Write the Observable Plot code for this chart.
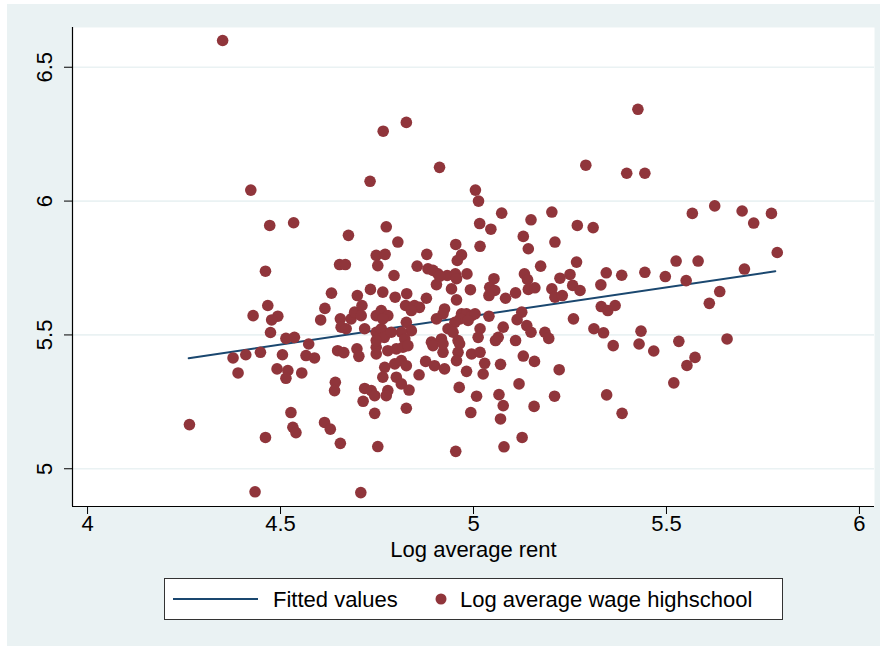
<!DOCTYPE html>
<html>
<head>
<meta charset="utf-8">
<script src="https://cdn.jsdelivr.net/npm/d3@7"></script>
<script src="https://cdn.jsdelivr.net/npm/@observablehq/plot@0.6"></script>
<style>
  html, body { margin: 0; padding: 0; background: #ffffff; width: 885px; height: 650px; overflow: hidden; }
  #bg { position: absolute; left: 7px; top: 4px; width: 873px; height: 642px; background: #eaf2f3; }
  #chart { position: absolute; left: 0; top: 0; }
  #legend { position: absolute; left: 164px; top: 578px; width: 619px; height: 42px; background: #fff; border: 1px solid #333; box-sizing: border-box; }
  #legend svg { display: block; }
</style>
</head>
<body>
<div id="bg"></div>
<div id="chart"></div>
<div id="legend"></div>
<script>
// Log average rent (x) and Log average wage highschool (y)
const rentX = [
4.350,5.426,4.826,4.766,5.291,4.912,5.397,5.444,4.732,4.423,5.005,5.013,
4.472,4.534,4.676,4.461,4.653,4.668,4.748,4.752,4.632,4.699,4.733,
4.467,4.429,4.493,4.477,4.615,4.604,4.655,4.657,4.670,4.683,4.692,4.711,4.709,4.718,4.748,
4.474,4.514,4.536,4.573,4.748,
4.377,4.410,4.448,4.505,4.566,4.588,4.648,4.664,4.698,4.703,4.748,4.748,
4.390,4.491,4.519,4.514,4.555,4.642,4.640,4.718,4.735,4.744,4.714,
4.527,4.532,4.540,4.461,4.264,4.614,4.629,4.655,4.744,4.752,4.434,4.708,
5.073,5.149,5.203,5.269,4.774,5.016,5.045,5.129,5.142,5.211,4.804,5.017,4.954,4.771,4.879,
4.969,4.958,4.854,4.882,4.895,4.908,4.932,4.953,4.956,4.904,4.912,4.983,4.794,
5.174,5.267,5.250,5.224,5.132,5.140,5.053,5.257,5.142,5.159,5.042,5.055,5.040,4.992,4.943,
4.765,4.797,4.827,4.878,4.956,5.083,5.109,5.203,5.211,5.230,
4.824,4.847,4.860,4.839,4.925,4.921,4.904,4.969,4.982,4.995,5.004,4.965,4.986,4.952,
5.040,5.125,5.113,5.259,4.761,4.778,4.765,
5.017,5.012,5.077,5.064,5.138,5.149,5.185,5.195,5.109,
4.826,4.839,4.813,4.822,4.761,4.769,4.787,4.748,4.934,4.947,4.917,4.891,4.960,
4.778,4.800,4.817,4.830,4.770,4.796,4.813,4.826,4.765,4.800,4.813,4.833,4.778,4.774,
4.859,4.876,4.899,4.925,4.895,4.921,4.960,4.956,4.995,5.017,4.982,5.029,5.025,5.070,
5.129,5.158,5.222,4.963,5.008,5.066,5.077,5.070,5.118,5.210,5.157,4.993,4.826,
4.954,5.079,5.126,4.921,4.964,5.057,
5.625,5.696,5.772,5.726,5.567,5.310,5.787,5.525,5.582,5.702,5.344,5.384,5.444,5.497,5.551,
5.330,5.276,5.638,5.611,5.331,5.348,5.367,5.312,5.337,5.434,5.362,5.429,5.532,5.657,
5.467,5.574,5.553,5.519,5.345,5.385
];
const wageY = [
6.600,6.343,6.294,6.261,6.134,6.126,6.104,6.104,6.074,6.041,6.041,6.000,
5.909,5.919,5.872,5.738,5.763,5.763,5.797,5.759,5.656,5.647,5.670,
5.610,5.572,5.570,5.556,5.599,5.556,5.560,5.529,5.523,5.560,5.585,5.610,5.572,5.523,5.572,
5.509,5.487,5.491,5.466,5.510,
5.414,5.426,5.435,5.426,5.423,5.414,5.441,5.434,5.448,5.420,5.454,5.429,
5.358,5.373,5.367,5.338,5.358,5.323,5.292,5.300,5.292,5.273,5.252,
5.210,5.155,5.135,5.117,5.165,5.173,5.148,5.095,5.207,5.083,4.914,4.911,
5.955,5.930,5.959,5.909,5.904,5.916,5.895,5.868,5.822,5.847,5.847,5.831,5.838,5.801,5.801,
5.799,5.778,5.757,5.747,5.741,5.728,5.722,5.728,5.710,5.688,5.719,5.728,5.722,
5.757,5.772,5.726,5.712,5.728,5.707,5.710,5.685,5.670,5.676,5.678,5.666,5.647,5.669,5.672,
5.660,5.641,5.654,5.637,5.631,5.637,5.657,5.672,5.641,5.647,
5.610,5.610,5.603,5.591,5.597,5.579,5.560,5.579,5.579,5.572,5.579,5.560,5.554,5.547,
5.570,5.585,5.557,5.560,5.591,5.572,5.560,
5.523,5.491,5.529,5.491,5.535,5.510,5.510,5.487,5.479,
5.547,5.516,5.510,5.485,5.523,5.491,5.510,5.479,5.523,5.510,5.485,5.473,5.479,
5.441,5.448,5.454,5.460,5.379,5.392,5.404,5.385,5.342,5.342,5.317,5.294,5.292,5.273,
5.351,5.401,5.385,5.373,5.460,5.435,5.435,5.404,5.429,5.435,5.364,5.394,5.354,5.390,
5.421,5.401,5.370,5.304,5.271,5.277,5.236,5.186,5.317,5.271,5.233,5.210,5.226,
5.065,5.082,5.117,5.467,5.467,5.479,
5.982,5.963,5.954,5.918,5.954,5.901,5.808,5.776,5.776,5.746,5.732,5.723,5.734,5.718,5.703,
5.687,5.666,5.662,5.618,5.606,5.591,5.610,5.523,5.508,5.514,5.460,5.466,5.476,5.485,
5.440,5.416,5.386,5.321,5.276,5.207
];
// Fitted values line (endpoints)
const fitX = [4.262, 5.782];
const fitY = [5.413, 5.738];
const xTicks = [4, 4.5, 5, 5.5, 6];
const yTicks = [5, 5.5, 6, 6.5];
const xLabel = "Log average rent";
const legendLabels = ["Fitted values", "Log average wage highschool"];

const xDomain = [3.961, 6.039];
const yDomain = [4.859, 6.6485];
const dotColor = "#90353b";
const lineColor = "#1a476f";
const font = "'Liberation Sans', Arial, Helvetica, sans-serif";

const points = rentX.map((x, i) => ({x, y: wageY[i]}));
const fit = fitX.map((x, i) => ({x, y: fitY[i]}));

const chart = Plot.plot({
  width: 885,
  height: 575,
  marginLeft: 72,
  marginRight: 11,
  marginTop: 27,
  marginBottom: 69,
  x: {domain: xDomain},
  y: {domain: yDomain},
  style: {background: "transparent", fontFamily: font, fontSize: "22px", color: "#000", overflow: "visible"},
  marks: [
    Plot.frame({fill: "white", stroke: null}),
    Plot.gridY(yTicks, {stroke: "#eaf2f3", strokeOpacity: 1, strokeWidth: 1.6}),
    Plot.axisX(xTicks, {tickSize: 8, tickPadding: 1, fontSize: 22, tickFormat: d => String(d), label: null}),
    Plot.axisY(yTicks, {tickSize: 8, tickFormat: () => "", label: null}),
    Plot.text(yTicks, {y: d => d, frameAnchor: "left", dx: -28, rotate: -90, text: d => String(d), fontSize: 22, textAnchor: "middle"}),
    Plot.line(fit, {x: "x", y: "y", stroke: lineColor, strokeWidth: 2}),
    Plot.dot(points, {x: "x", y: "y", r: 5.8, fill: dotColor, stroke: null}),
    Plot.ruleX([xDomain[0]], {stroke: "#000", strokeWidth: 1.2}),
    Plot.ruleY([yDomain[0]], {stroke: "#000", strokeWidth: 1.2}),
    Plot.text([xLabel], {frameAnchor: "bottom", dy: 50, text: d => d, fontSize: 22})
  ]
});
document.getElementById("chart").appendChild(chart);

// Legend (below the chart)
const lg = d3.select("#legend").append("svg").attr("width", 617).attr("height", 40)
  .style("font-family", font).style("font-size", "22px");
lg.append("line").attr("x1", 8).attr("x2", 93).attr("y1", 20).attr("y2", 20)
  .attr("stroke", lineColor).attr("stroke-width", 2);
lg.append("text").attr("x", 108).attr("y", 20).attr("dy", "0.35em").text(legendLabels[0]);
lg.append("circle").attr("cx", 276).attr("cy", 20).attr("r", 5.5).attr("fill", dotColor);
lg.append("text").attr("x", 295).attr("y", 20).attr("dy", "0.35em").text(legendLabels[1]);
</script>
</body>
</html>
